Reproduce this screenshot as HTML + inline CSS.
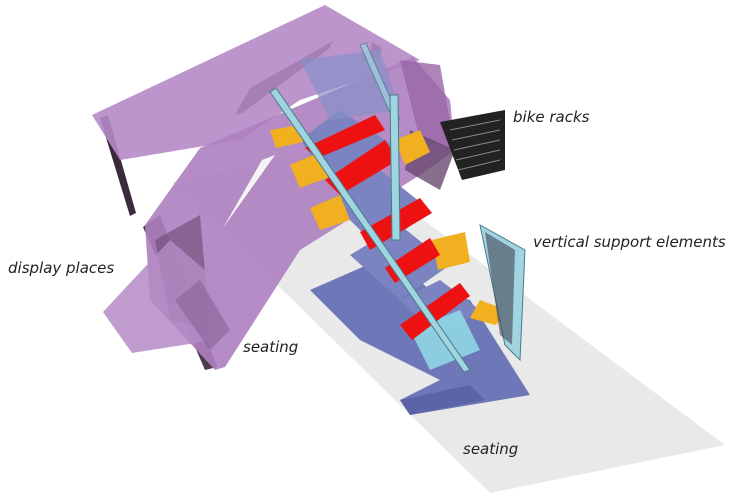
<!DOCTYPE html>
<html><head><meta charset="utf-8"><style>
html,body{margin:0;padding:0;background:#fff;}
svg{display:block}
text{font-family:"DejaVu Sans","Liberation Sans",sans-serif;font-style:italic;font-size:15px;fill:#222}
</style></head><body>
<svg width="730" height="503" viewBox="0 0 730 503" xmlns="http://www.w3.org/2000/svg">
<rect width="730" height="503" fill="#fff"/>
<!-- ground slab -->
<polygon points="172,182 330,150 725,445 490,493" fill="#e9e9e9"/>
<!-- dark walls -->
<polygon points="100,118 108,115 136,213 130,216" fill="#3a2a3a"/>
<polygon points="143,227 160,215 217,367 205,370" fill="#4a3a4a"/>
<polygon points="330,45 335,40 250,88 235,115 242,113 330,48" fill="#222"/>
<polygon points="372,42 382,48 378,60 370,55" fill="#222"/>
<!-- purple band A (top, left) -->
<polygon points="92,115 325,5 420,60 300,100 240,140 120,160" fill="#b58ac6" opacity="0.9"/>
<!-- purple band B (diagonal big) -->
<polygon points="200,148 413,57 450,100 455,150 420,175 300,250 225,367 215,370 150,300 145,225" fill="#ad80bf" opacity="0.9"/>
<polygon points="223,228 275,155 262,160" fill="#f4f4f4"/>
<polygon points="155,240 200,215 210,330 170,320" fill="#6a4a72" opacity="0.6"/>
<!-- display places lower -->
<polygon points="103,312 170,240 240,300 215,340 132,353" fill="#b48bc4" opacity="0.85"/>
<polygon points="175,300 200,280 230,330 210,350" fill="#8a6098" opacity="0.6"/>
<polygon points="400,60 440,65 455,150 420,140" fill="#9a66a6" opacity="0.8"/>
<polygon points="410,130 455,150 440,190 405,170" fill="#6a4a70" opacity="0.8"/>
<!-- bike racks -->
<polygon points="440,122 505,110 505,170 462,180" fill="#222"/>
<g stroke="#888" stroke-width="1">
<line x1="450" y1="130" x2="500" y2="120"/><line x1="452" y1="140" x2="500" y2="130"/>
<line x1="454" y1="150" x2="500" y2="140"/><line x1="456" y1="160" x2="500" y2="150"/>
<line x1="458" y1="170" x2="500" y2="160"/></g>
<!-- blue platform bottom -->
<polygon points="310,290 390,255 430,290 470,300 530,395 410,415 400,400 440,380 360,340" fill="#6e78b8"/>
<polygon points="400,400 470,385 485,400 410,415" fill="#5a64a6"/>
<!-- stair blue slabs -->
<polygon points="300,140 340,110 400,150 345,200" fill="#7b84c0"/>
<polygon points="330,200 380,170 430,210 380,250" fill="#7b84c0"/>
<polygon points="350,255 400,225 450,265 400,300" fill="#7b84c0"/>
<polygon points="400,300 440,280 480,310 440,340" fill="#7b84c0"/>
<polygon points="300,60 380,50 400,110 330,120" fill="#8890c8" opacity="0.7"/>
<!-- cyan light panel -->
<polygon points="410,330 460,310 480,350 430,370" fill="#8fd6e6" opacity="0.9"/>
<!-- orange squares -->
<g fill="#f0b020">
<polygon points="270,130 300,125 303,142 276,148"/>
<polygon points="290,165 320,152 335,175 300,188"/>
<polygon points="395,140 420,130 430,152 405,165"/>
<polygon points="310,208 340,195 350,220 320,230"/>
<polygon points="432,240 465,232 470,262 438,270"/>
<polygon points="480,300 512,312 495,325 470,318"/>
</g>
<!-- red steps -->
<g fill="#ee1111">
<polygon points="305,148 375,115 385,130 318,158"/>
<polygon points="325,180 385,140 398,160 340,195"/>
<polygon points="360,232 420,198 432,213 370,250"/>
<polygon points="385,268 430,238 440,255 395,283"/>
<polygon points="400,325 460,283 470,296 412,340"/>
</g>
<!-- vertical support elements / rails -->
<g fill="#9fd4e0" stroke="#4a7a88" stroke-width="1">
<polygon points="270,92 276,88 470,370 464,372"/>
<polygon points="360,45 366,43 400,120 394,122" opacity="0.7"/>
<polygon points="390,95 398,95 400,240 392,240"/>
<polygon points="480,225 525,250 520,360 505,345"/>
</g>
<polygon points="485,232 515,250 512,345 500,335" fill="#445" opacity="0.6"/>
<!-- labels -->
<text x="513" y="122">bike racks</text>
<text x="533" y="247">vertical support elements</text>
<text x="8" y="273">display places</text>
<text x="243" y="352">seating</text>
<text x="463" y="454">seating</text>
</svg>
</body></html>
